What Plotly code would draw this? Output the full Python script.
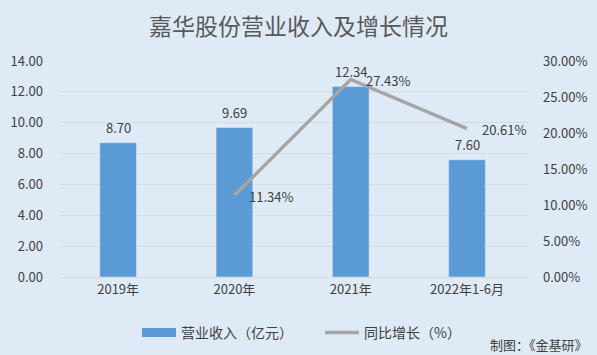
import plotly.graph_objects as go

categories = ["2019年", "2020年", "2021年", "2022年1-6月"]
revenue = [8.70, 9.69, 12.34, 7.60]
growth_cats = ["2020年", "2021年", "2022年1-6月"]
growth = [11.34, 27.43, 20.61]

left_ticks = [0, 2, 4, 6, 8, 10, 12, 14]
right_ticks = [0, 5, 10, 15, 20, 25, 30]

FONT = "Noto Sans CJK SC, Microsoft YaHei, sans-serif"
BG = "#DEEAF6"
TXT = "#404040"
BAR = "#5B9BD5"
LINE = "#A5A5A5"

fig = go.Figure()
fig.add_trace(go.Bar(
    x=categories, y=revenue, name="营业收入（亿元）",
    marker=dict(color=BAR), width=0.316, showlegend=False,
))
# legend-only swatch for the bars (wide rectangle like the original)
fig.add_trace(go.Scatter(
    x=[None], y=[None], name="营业收入（亿元）", mode="lines",
    line=dict(color=BAR, width=9),
))
fig.add_trace(go.Scatter(
    x=growth_cats, y=growth, name="同比增长（%）", yaxis="y2",
    mode="lines", line=dict(color=LINE, width=3.5),
))

for c, v in zip(categories, revenue):
    fig.add_annotation(x=c, y=v, yref="y", text=f"{v:.2f}", showarrow=False,
                       yshift=15, font=dict(size=13, color=TXT, family=FONT))
for c, v in zip(growth_cats, growth):
    fig.add_annotation(x=c, y=v, yref="y2", text=f"{v:.2f}%", showarrow=False,
                       xshift=37, yshift=-1, font=dict(size=13, color=TXT, family=FONT))

fig.add_annotation(xref="paper", yref="paper", x=1.1325, y=-0.312, xanchor="right",
                   yanchor="middle", text="制图：《金基研》", showarrow=False,
                   font=dict(size=13, color=TXT, family=FONT))

fig.update_layout(
    width=597, height=355,
    margin=dict(l=60, r=69, t=61, b=78),
    paper_bgcolor=BG, plot_bgcolor=BG,
    font=dict(family=FONT, color=TXT, size=13),
    title=dict(text="嘉华股份营业收入及增长情况", x=0.5, xanchor="center",
               y=1 - 26.5 / 355, yanchor="middle",
               font=dict(size=23, color="#595959", family=FONT)),
    showlegend=True,
    legend=dict(orientation="h", xref="container", yref="container",
                x=137 / 597, xanchor="left", y=1 - 333 / 355, yanchor="middle",
                font=dict(size=14, color=TXT, family=FONT), bgcolor="rgba(0,0,0,0)",
                itemwidth=34, entrywidth=134, entrywidthmode="pixels"),
    xaxis=dict(type="category", categoryorder="array", categoryarray=categories,
               showgrid=False, showline=True, linecolor="#D9D9D9", linewidth=1,
               tickfont=dict(size=13, color=TXT), ticks="", automargin=False),
    yaxis=dict(range=[0, 14], tickvals=left_ticks,
               ticktext=[f"{t:.2f}" for t in left_ticks],
               showgrid=True, gridcolor="#D9D9D9", gridwidth=1, zeroline=False,
               tickfont=dict(size=13, color=TXT), ticklabelstandoff=16,
               automargin=False),
    yaxis2=dict(range=[0, 30], tickvals=right_ticks,
                ticktext=[f"{t:.2f}%" for t in right_ticks],
                overlaying="y", side="right", showgrid=False, zeroline=False,
                tickfont=dict(size=13, color=TXT), ticklabelstandoff=14,
                automargin=False),
)

fig.write_html("out.html", config={"displayModeBar": False},
               post_script="document.body.style.margin='0';document.body.style.background='" + BG + "';")
